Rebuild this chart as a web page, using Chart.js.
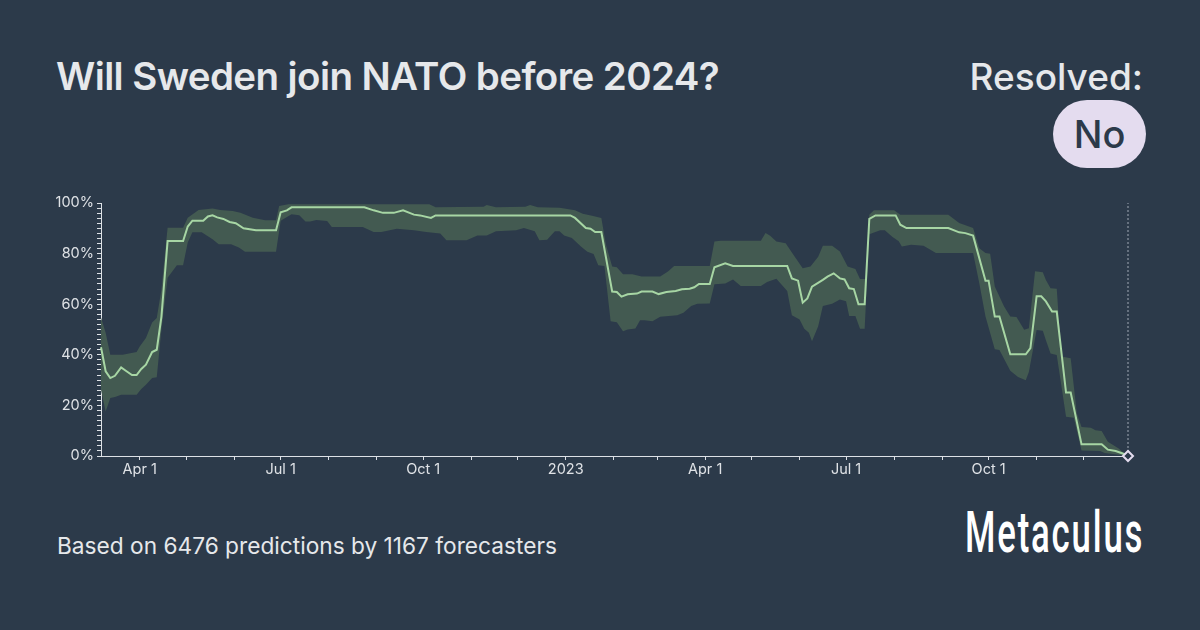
<!DOCTYPE html>
<html>
<head>
<meta charset="utf-8">
<script src="https://cdn.jsdelivr.net/npm/chart.js@4.4.1/dist/chart.umd.min.js"></script>
<style>
  html, body { margin: 0; padding: 0; }
  body { width: 1200px; height: 630px; background: #2c3a4a; position: relative; overflow: hidden; font-family: Inter, "Open Sans", sans-serif; color: #e6e8eb; }
  #title { position: absolute; left: 56px; top: 53px; font-size: 38.5px; font-weight: 600; letter-spacing: -0.6px; white-space: nowrap; }
  #resolved { position: absolute; right: 57px; top: 54px; font-size: 37px; font-weight: 500; white-space: nowrap; }
  #badge { position: absolute; left: 1053px; top: 100px; width: 93px; height: 68px; border-radius: 34px; background: #e4dcef; color: #2c3a4a; font-size: 38px; font-weight: 500; display: flex; align-items: center; justify-content: center; }
  #footer { position: absolute; left: 57px; top: 532px; font-size: 22.7px; font-weight: 400; white-space: nowrap; color: #e6e8eb; }
  #logo { position: absolute; left: 965px; top: 498px; font-family: Roboto, sans-serif; font-size: 58px; font-weight: 500; color: #ffffff; transform-origin: left top; transform: scaleX(0.6); white-space: nowrap; letter-spacing: 3px; }
  #wrap { position: absolute; left: 40px; top: 190px; width: 1110px; height: 290px; }
</style>
</head>
<body>
<div id="title">Will Sweden join NATO before 2024?</div>
<div id="resolved">Resolved:</div>
<div id="badge">No</div>
<div id="footer">Based on 6476 predictions by 1167 forecasters</div>
<div id="logo">Metaculus</div>
<div id="wrap"><canvas id="c"></canvas></div>
<script>
// ---- data (community prediction, %) ----
const medianDates = ['2022-03-07','2022-03-10','2022-03-13','2022-03-16','2022-03-20','2022-03-23','2022-03-27','2022-03-30','2022-04-02','2022-04-05','2022-04-09','2022-04-12','2022-04-15','2022-04-19','2022-04-29','2022-05-02','2022-05-05','2022-05-12','2022-05-15','2022-05-18','2022-05-21','2022-05-25','2022-05-29','2022-06-02','2022-06-07','2022-06-15','2022-06-28','2022-07-01','2022-07-05','2022-07-08','2022-08-24','2022-08-30','2022-09-05','2022-09-12','2022-09-18','2022-09-25','2022-09-29','2022-10-06','2022-10-09','2023-01-04','2023-01-07','2023-01-14','2023-01-17','2023-01-20','2023-01-24','2023-01-31','2023-02-03','2023-02-06','2023-02-10','2023-02-16','2023-02-19','2023-02-26','2023-03-02','2023-03-07','2023-03-13','2023-03-17','2023-03-22','2023-03-25','2023-03-28','2023-04-04','2023-04-07','2023-04-14','2023-04-19','2023-05-24','2023-05-27','2023-05-31','2023-06-03','2023-06-06','2023-06-09','2023-06-16','2023-06-19','2023-06-23','2023-06-27','2023-06-30','2023-07-03','2023-07-06','2023-07-09','2023-07-13','2023-07-16','2023-07-20','2023-08-02','2023-08-05','2023-08-09','2023-09-05','2023-09-12','2023-09-16','2023-09-21','2023-09-29','2023-10-01','2023-10-05','2023-10-08','2023-10-15','2023-10-25','2023-10-28','2023-11-01','2023-11-04','2023-11-07','2023-11-11','2023-11-14','2023-11-20','2023-11-23','2023-11-30','2023-12-13','2023-12-17','2023-12-22','2023-12-28'];
const medianValues = [43,33.5,30.8,31.7,35,33.7,32,32,34.4,36.1,41.1,42,55,85,85,90.7,93,93,94.7,95.1,94.3,93.7,92.5,92,90,89.2,89.2,96.3,97.1,98.3,98.3,97.1,96.1,96.1,97.1,95.4,95.1,94.1,95.1,95.1,94.1,90.1,89.8,88.5,88.5,65,64.8,63,63.9,64.2,65,65,64,64.8,65.2,65.9,66.1,66.7,68,68,74.6,76.2,75.1,75.1,70.2,69.3,60.6,62.3,66.9,69.6,70.9,72.2,70.2,69.8,66.3,66,60,60,93.7,95.1,95.1,91.4,90.1,90.1,88.4,88.1,87.1,69.3,69.3,55.1,55.1,40.2,40.2,42.6,63.1,63.1,61.1,57.1,57.1,25.1,25.1,4.6,4.6,2.5,2,0.7];

const upperDates = ['2022-03-07','2022-03-10','2022-03-13','2022-03-21','2022-03-30','2022-04-01','2022-04-05','2022-04-09','2022-04-12','2022-04-15','2022-04-19','2022-04-29','2022-05-02','2022-05-09','2022-05-18','2022-05-23','2022-05-31','2022-06-05','2022-06-13','2022-06-21','2022-06-28','2022-06-30','2022-07-06','2022-10-05','2022-10-09','2022-11-09','2022-11-11','2022-11-17','2022-12-06','2022-12-09','2022-12-14','2022-12-28','2023-01-07','2023-01-12','2023-01-18','2023-01-24','2023-01-27','2023-01-31','2023-02-03','2023-02-07','2023-02-13','2023-02-19','2023-03-03','2023-03-08','2023-03-12','2023-04-04','2023-04-07','2023-04-11','2023-05-07','2023-05-10','2023-05-13','2023-05-17','2023-05-23','2023-05-28','2023-06-03','2023-06-08','2023-06-13','2023-06-16','2023-06-22','2023-06-27','2023-07-02','2023-07-07','2023-07-10','2023-07-14','2023-07-16','2023-07-19','2023-08-01','2023-08-05','2023-09-05','2023-09-12','2023-09-21','2023-09-25','2023-09-29','2023-10-02','2023-10-05','2023-10-11','2023-10-15','2023-10-19','2023-10-24','2023-10-27','2023-10-31','2023-11-05','2023-11-07','2023-11-10','2023-11-14','2023-11-17','2023-11-23','2023-11-27','2023-11-30','2023-12-06','2023-12-09','2023-12-13','2023-12-17','2023-12-24','2023-12-28'];
const upperValues = [54.7,48.7,40,40,41.1,43.3,46.6,52.8,54.5,65.7,90.2,90.2,94.2,97.2,97.8,97.2,96.8,96.1,94.2,93.2,93.2,98.8,99.5,99.5,98.3,98.5,99.2,98.3,98.5,99.2,98.3,98.1,97.1,95.8,95,94.1,83.5,74.9,74.6,71.8,71.8,70.9,70.9,72.9,75.1,75.1,84.8,85.1,85.1,88.1,87.1,84.8,84.1,79.5,74.2,74.9,78.8,83.1,83.1,80.8,74.9,73.9,70,70,95.4,97.1,97.1,95.4,95.4,92.1,90.1,82.1,80.2,79.9,67,59.1,55.1,54.9,49.9,50.5,73,72.6,69.6,66.3,66.1,39.3,38.6,16.8,11.5,11.2,10.2,9.9,5.6,3,0.8];

const lowerDates = ['2022-03-07','2022-03-10','2022-03-13','2022-03-16','2022-03-20','2022-03-30','2022-04-02','2022-04-05','2022-04-09','2022-04-12','2022-04-15','2022-04-19','2022-04-25','2022-04-29','2022-05-02','2022-05-05','2022-05-11','2022-05-18','2022-05-22','2022-05-30','2022-06-04','2022-06-08','2022-06-28','2022-07-01','2022-07-08','2022-07-13','2022-07-17','2022-07-20','2022-07-24','2022-07-31','2022-08-03','2022-08-23','2022-08-30','2022-09-04','2022-09-14','2022-09-25','2022-10-03','2022-10-12','2022-10-16','2022-10-29','2022-11-05','2022-11-11','2022-11-17','2022-11-30','2022-12-05','2022-12-12','2022-12-15','2022-12-20','2022-12-25','2022-12-28','2022-12-31','2023-01-05','2023-01-11','2023-01-15','2023-01-19','2023-01-22','2023-01-26','2023-01-30','2023-02-03','2023-02-07','2023-02-10','2023-02-15','2023-02-18','2023-02-21','2023-02-26','2023-03-03','2023-03-14','2023-03-18','2023-03-23','2023-03-27','2023-04-04','2023-04-07','2023-04-14','2023-04-19','2023-04-24','2023-05-07','2023-05-11','2023-05-17','2023-05-24','2023-05-27','2023-06-01','2023-06-04','2023-06-07','2023-06-09','2023-06-13','2023-06-16','2023-06-22','2023-06-27','2023-07-01','2023-07-03','2023-07-07','2023-07-10','2023-07-13','2023-07-16','2023-07-23','2023-07-26','2023-07-31','2023-08-04','2023-08-06','2023-08-12','2023-08-20','2023-08-28','2023-09-21','2023-09-25','2023-09-29','2023-10-05','2023-10-08','2023-10-15','2023-10-20','2023-10-25','2023-10-27','2023-11-01','2023-11-05','2023-11-07','2023-11-10','2023-11-14','2023-11-20','2023-11-25','2023-11-30','2023-12-12','2023-12-15','2023-12-27'];
const lowerValues = [26.2,17.6,22.9,23.3,24.2,24.2,26.5,28.2,30.8,31.1,50,70.5,75.4,75.4,84.4,88.4,88.4,85.7,83.7,83.7,82.4,80.7,80.7,93,95.6,95.2,92.7,92.7,93.3,92.9,90.5,90.5,88.5,88.5,89.8,89.2,88.5,87.9,85.3,85.3,87.2,87.2,88.8,89.2,90.1,88.8,85.3,85.5,88.8,88.8,87.2,86.2,82.7,80.7,79.8,75.4,75.1,53.3,52.9,49.3,50,50.4,53.7,53.7,53.3,55,55.6,56.6,59.3,60.2,60.3,67.9,68.2,69.8,67.2,67.2,68.8,70.1,65.2,55.6,54,50.3,48.7,45.4,51.3,59.3,60.2,61.9,61.2,55.3,55.3,50.3,50.3,87.6,89.2,89.2,86.6,84.9,82.8,83.5,83.1,80.2,80.2,68.3,55.1,42.2,41.9,33.7,31.2,29.9,33.2,49.8,49.5,45.8,40.5,39.9,15.5,15.1,2.2,2,1.2,0.3];

const axisStart = '2022-03-07';
const resolutionDate = '2023-12-30';
const resolutionValue = 0;

const tickDates = ['2022-04-01','2022-05-01','2022-06-01','2022-07-01','2022-08-01','2022-09-01','2022-10-01','2022-11-01','2022-12-01','2023-01-01','2023-02-01','2023-03-01','2023-04-01','2023-05-01','2023-06-01','2023-07-01','2023-08-01','2023-09-01','2023-10-01','2023-11-01','2023-12-01'];
const tickLabels = ['Apr 1','','','Jul 1','','','Oct 1','','','2023','','','Apr 1','','','Jul 1','','','Oct 1','',''];
const yTickLabelValues = [0,20,40,60,80,100];

// ---- helpers ----
const EPOCH = Date.UTC(2022, 0, 1);
function dayOf(s) { const [y, m, d] = s.split('-').map(Number); return (Date.UTC(y, m - 1, d) - EPOCH) / 86400000; }
function pts(dates, vals) { return dates.map((d, i) => ({ x: dayOf(d), y: vals[i] })); }

const tickDays = tickDates.map(dayOf);
const labelByDay = {};
tickDays.forEach((d, i) => labelByDay[d] = tickLabels[i]);

const AXIS = '#dde1e6';
const TEXT = '#dfe2e6';
const BG = '#2c3a4a';

new Chart(document.getElementById('c'), {
  type: 'line',
  data: {
    datasets: [
      { label: 'upper', data: pts(upperDates, upperValues), borderWidth: 0, pointRadius: 0, fill: false, tension: 0, order: 3 },
      { label: 'lower', data: pts(lowerDates, lowerValues), borderWidth: 0, pointRadius: 0, fill: '-1', backgroundColor: '#435a51', tension: 0, order: 2 },
      { label: 'median', data: pts(medianDates, medianValues), borderColor: '#a7d6a4', borderWidth: 2, pointRadius: 0, fill: false, tension: 0, order: 1 },
      { label: 'resolution line', data: [{ x: dayOf(resolutionDate), y: 0 }, { x: dayOf(resolutionDate), y: 100 }], borderColor: '#8d96a3', borderWidth: 1.2, borderDash: [2, 2], pointRadius: 0, fill: false, order: 4 },
      { label: 'resolution', data: [{ x: dayOf(resolutionDate), y: resolutionValue }], showLine: false, pointStyle: 'rectRot', pointRadius: 5, pointBorderWidth: 2, pointBorderColor: '#e4dcef', pointBackgroundColor: BG, clip: false, order: 0 }
    ]
  },
  options: {
    responsive: true,
    maintainAspectRatio: false,
    animation: false,
    events: [],
    clip: false,
    layout: { padding: { top: 13, right: 22, left: 0, bottom: 0 } },
    plugins: { legend: { display: false }, tooltip: { enabled: false } },
    scales: {
      x: {
        type: 'linear',
        min: dayOf(axisStart),
        max: dayOf(resolutionDate),
        afterBuildTicks: (s) => { s.ticks = tickDays.map(v => ({ value: v })); },
        afterFit: (s) => { s.height = 24; },
        border: { display: true, color: AXIS, width: 1 },
        grid: { display: true, drawOnChartArea: false, drawTicks: true, tickLength: 4, tickColor: AXIS },
        ticks: { autoSkip: false, maxRotation: 0, padding: 1, color: TEXT, font: { family: 'Inter', size: 14.5 }, callback: (v) => labelByDay[v] ?? '' }
      },
      y: {
        min: 0, max: 100,
        afterBuildTicks: (s) => { const t = []; for (let v = 0; v <= 100; v += 2) t.push({ value: v }); s.ticks = t; },
        afterFit: (s) => { s.width = 61; },
        border: { display: true, color: AXIS, width: 1 },
        grid: { display: true, drawOnChartArea: false, drawTicks: true, tickLength: 4, tickColor: AXIS },
        ticks: { autoSkip: false, padding: 3, color: TEXT, font: { family: 'Inter', size: 14.5 }, callback: (v) => yTickLabelValues.includes(v) ? v + '%' : '' }
      }
    }
  }
});
</script>
</body>
</html>
